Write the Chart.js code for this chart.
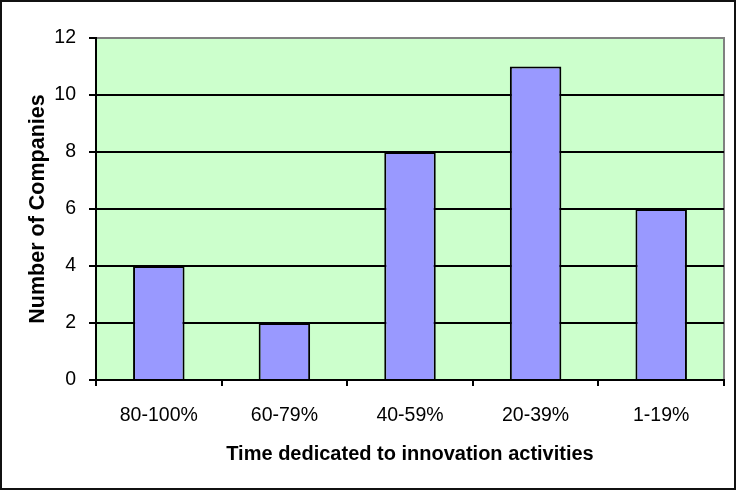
<!DOCTYPE html>
<html><head><meta charset="utf-8">
<script src="https://cdn.jsdelivr.net/npm/chart.js@4"></script>
<style>
html,body{margin:0;padding:0;background:#fff;}
#wrap{position:absolute;left:0;top:0;width:732px;height:486px;border:2px solid #111;}
canvas{display:block;}
</style></head><body>
<div id="wrap"><canvas id="c" width="732" height="486"></canvas></div>
<script>
const categories = ["80-100%","60-79%","40-59%","20-39%","1-19%"];
const companies = [4,2,8,11,6];
const yTicks = [0,2,4,6,8,10,12];

const plotBg = {
  id:'plotBg',
  beforeDraw(chart){
    const {ctx, chartArea:a} = chart;
    ctx.save();
    ctx.fillStyle = '#CCFFCC';
    ctx.fillRect(a.left, a.top, a.right-a.left, a.bottom-a.top);
    ctx.strokeStyle = '#808080';
    ctx.lineWidth = 2;
    ctx.beginPath();
    ctx.moveTo(a.left, a.top); ctx.lineTo(a.right, a.top); ctx.lineTo(a.right, a.bottom);
    ctx.stroke();
    ctx.restore();
  }
};

const FONT = 'Liberation Sans, Arial, sans-serif';

new Chart(document.getElementById('c'), {
  type:'bar',
  data:{labels:categories, datasets:[{data:companies, backgroundColor:'#9999FF', borderColor:'#000', borderWidth:2, barPercentage:0.41, categoryPercentage:1}]},
  options:{
    responsive:false, animation:false,
    layout:{padding:{left:0,right:10,top:36,bottom:0}},
    plugins:{legend:{display:false}, tooltip:{enabled:false}},
    scales:{
      x:{
        afterFit(s){ s.height = 108; },
        grid:{offset:true, drawOnChartArea:false, drawTicks:true, tickLength:6, color:'#000', lineWidth:2},
        border:{color:'#000', width:2},
        ticks:{color:'#000', font:{family:FONT, size:19.5}, padding:18},
        title:{display:true, text:'Time dedicated to innovation activities', color:'#000', font:{family:FONT, size:20, weight:'bold'}, padding:{top:0,bottom:22}}
      },
      y:{
        min:0, max:12,
        afterBuildTicks(s){ s.ticks = yTicks.map(v=>({value:v})); },
        afterFit(s){ s.width = 94; },
        grid:{color:(c)=> c.tick && c.tick.value===12 ? 'rgba(0,0,0,0)' : '#000', lineWidth:2, tickLength:7, tickColor:'#000'},
        border:{color:'#000', width:2},
        ticks:{color:'#000', font:{family:FONT, size:19.5}, padding:13},
        title:{display:true, text:'Number of Companies', color:'#000', font:{family:FONT, size:21.5, weight:'bold'}, padding:{top:23,bottom:0}}
      }
    }
  },
  plugins:[plotBg]
});
</script></body></html>
